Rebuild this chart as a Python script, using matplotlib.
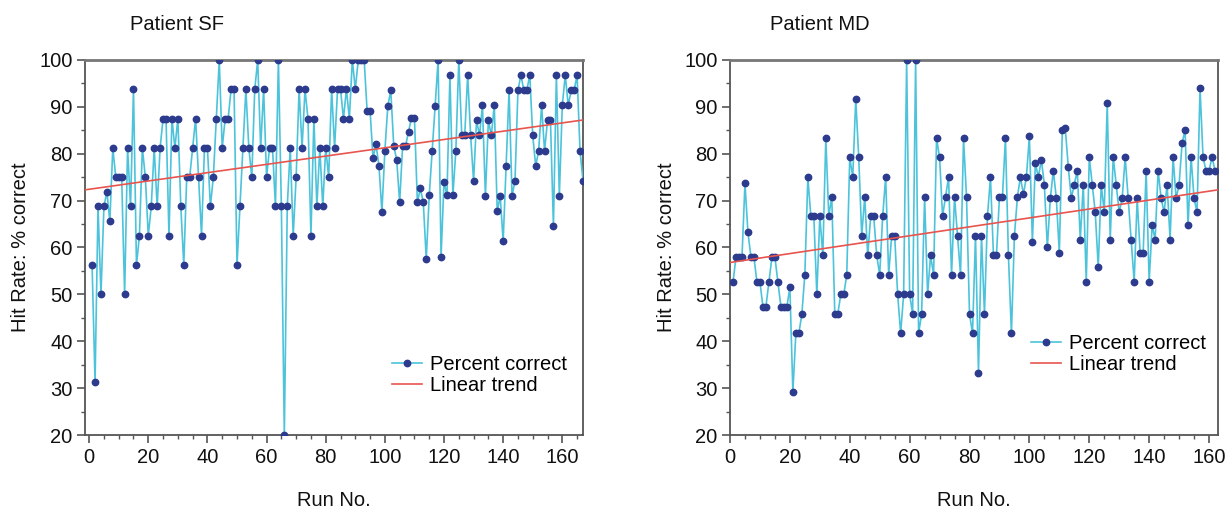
import numpy as np
import matplotlib
matplotlib.use("Agg")
import matplotlib.pyplot as plt
from matplotlib.ticker import MultipleLocator

plt.rcParams['font.family'] = ['Liberation Sans', 'DejaVu Sans']

# ---------------- data ----------------
sf_values = [
    56.25, 31.25, 68.75, 50, 68.75, 71.9, 65.6, 81.25, 75, 75, 75, 50, 81.25, 68.75, 93.75, 56.25,
    62.5, 81.25, 75, 62.5, 68.75, 81.25, 68.75, 81.25, 87.5, 87.5, 62.5, 87.5, 81.25, 87.5, 68.75,
    56.25, 75, 75, 81.25, 87.5, 75, 62.5, 81.25, 81.25, 68.75,
    75, 87.5, 100, 81.25, 87.5, 87.5, 93.75, 93.75, 56.25, 68.75, 81.25, 93.75, 81.25, 75, 93.75,
    100, 81.25, 93.75, 75, 81.25, 81.25, 68.75, 100, 68.75, 20, 68.75, 81.25, 62.5, 75, 93.75,
    81.25, 93.75, 87.5, 62.5, 87.5, 68.75, 81.25, 68.75, 81.25, 75, 93.75,
    81.25, 93.75, 93.75, 87.5, 93.75, 87.5, 100, 93.75, 100, 100, 100, 89.1, 89.1, 79, 82, 77.4,
    67.6, 80.6, 90.2, 93.5, 81.7, 78.7, 69.6, 81.7, 81.7, 84.7, 87.7, 87.7, 69.6, 72.6, 69.6,
    57.5, 71.1, 80.6, 90.2, 100, 58, 74, 71.1, 96.8,
    71.1, 80.6, 100, 83.9, 83.9, 96.8, 83.9, 74.2, 87.1, 83.9, 90.3, 71.0, 87.1, 83.9, 90.3, 67.7,
    71.0, 61.3, 77.4, 93.5, 71.0, 74.2, 93.5, 96.8, 93.5, 93.5, 96.8, 83.9, 77.4, 80.6, 90.3, 80.6,
    87.1, 87.1, 64.5, 96.8, 71.0, 90.3, 96.8, 90.3, 93.5, 93.5, 96.8, 80.6, 74.2,
]
md_values = [
    52.6, 57.9, 57.9, 57.9, 73.7, 63.2, 57.9, 57.9, 52.6, 52.6, 47.4, 47.4, 52.6, 57.9, 57.9, 52.6,
    47.4, 47.4, 47.4, 51.5, 29.2, 41.7, 41.7, 45.8, 54.2, 75, 66.7, 66.7, 50, 66.7, 58.3, 83.3,
    66.7, 70.8, 45.8, 45.8, 50, 50, 54.2, 79.2, 75,
    91.7, 79.2, 62.5, 70.8, 58.3, 66.7, 66.7, 58.3, 54.2, 66.7, 75, 54.2, 62.5, 62.5, 50, 41.7,
    50, 100, 50, 45.8, 100, 41.7, 45.8, 70.8, 50, 58.3, 54.2, 83.3, 79.2, 66.7, 70.8, 75, 54.2,
    70.8, 62.5, 54.2, 83.3, 70.8, 45.8, 41.7,
    62.5, 33.3, 62.5, 45.8, 66.7, 75, 58.3, 58.3, 70.8, 70.8, 83.3, 58.3, 41.7, 62.5, 70.8, 75,
    71.4, 75, 83.8, 61.2, 78, 75, 78.7, 73.4, 60, 70.5, 76.4, 70.5, 58.8, 85.1, 85.4, 77.1, 70.5,
    73.4, 76.4, 61.7, 73.4,
    52.7, 79.3, 73.4, 67.5, 55.8, 73.4, 67.5, 90.8, 61.7, 79.3, 73.4, 67.5, 70.5, 79.3, 70.5,
    61.7, 52.7, 70.5, 58.8, 58.8, 76.4, 52.7, 64.7, 61.7, 76.4, 70.5, 67.5, 73.4, 61.7, 79.3,
    70.5, 73.4, 82.2, 85.1, 64.7, 79.3, 70.5, 67.5, 94.0, 79.3, 76.4, 76.4, 79.3, 76.4,
]
sf_runs = np.arange(1, len(sf_values) + 1)
md_runs = np.arange(1, len(md_values) + 1)

# linear trend end points (run, value)
sf_trend_x = [-1.4, 167]
sf_trend_y = [72.3, 87.2]
md_trend_x = [0, 163]
md_trend_y = [56.8, 72.3]

titles = ["Patient SF", "Patient MD"]
x_ticks = [0, 20, 40, 60, 80, 100, 120, 140, 160]
y_ticks = [20, 30, 40, 50, 60, 70, 80, 90, 100]

# ---------------- figure ----------------
W, H = 1227, 511
fig = plt.figure(figsize=(W / 100, H / 100), dpi=100)

line_c = '#4cc3da'
mark_c = '#2d3b8e'
red_c = '#e8544e'
spine_c = '#555555'
FS = 14.5

panels = [
    dict(runs=sf_runs, vals=sf_values, tx=sf_trend_x, ty=sf_trend_y, xlim=(-1.4, 167),
         rect=(85 / W, 76 / H, 498 / W, 375 / H), title=titles[0], tpos=(130 / W),
         leg=(0.6, 0.085), ylab=-0.11),
    dict(runs=md_runs, vals=md_values, tx=md_trend_x, ty=md_trend_y, xlim=(0, 163),
         rect=(730 / W, 76 / H, 488 / W, 375 / H), title=titles[1], tpos=(770 / W),
         leg=(0.6, 0.14), ylab=-0.111),
]

for p in panels:
    ax = fig.add_axes(p['rect'])
    ax.plot(p['runs'], p['vals'], '-', color=line_c, lw=1.2, marker='o',
            markersize=4.6, markerfacecolor=mark_c, markeredgecolor=mark_c,
            label='Percent correct', zorder=3)
    ax.plot(p['tx'], p['ty'], '-', color=red_c, lw=1.2, label='Linear trend', zorder=4)
    ax.set_xlim(*p['xlim'])
    ax.set_ylim(20, 100)
    ax.set_xticks(x_ticks)
    ax.set_yticks(y_ticks)
    ax.xaxis.set_minor_locator(MultipleLocator(5))
    ax.yaxis.set_minor_locator(MultipleLocator(5))
    ax.tick_params(which='major', direction='out', length=6, width=1.2, colors=spine_c,
                   labelcolor='#111111', labelsize=FS, pad=3)
    ax.tick_params(which='minor', direction='out', length=3, width=1.0, colors=spine_c)
    for s in ax.spines.values():
        s.set_color(spine_c)
        s.set_linewidth(1.3)
    ax.spines['top'].set_linewidth(2.0)
    ax.spines['top'].set_color('#777777')
    ax.set_xlabel('Run No.', fontsize=FS, color='#111111')
    ax.set_ylabel('Hit Rate: % correct', fontsize=FS, color='#111111')
    ax.xaxis.set_label_coords(0.5, -0.148)
    ax.yaxis.set_label_coords(p['ylab'], 0.5)
    leg = ax.legend(loc='lower left', bbox_to_anchor=p['leg'], frameon=False, fontsize=FS,
                    handlelength=1.5, handletextpad=0.4, borderaxespad=0, labelspacing=0.1)
    fig.text(p['tpos'], 1 - 24 / H, p['title'], fontsize=FS, ha='left', va='center',
             color='#111111')

fig.savefig('out.png', dpi=100)
